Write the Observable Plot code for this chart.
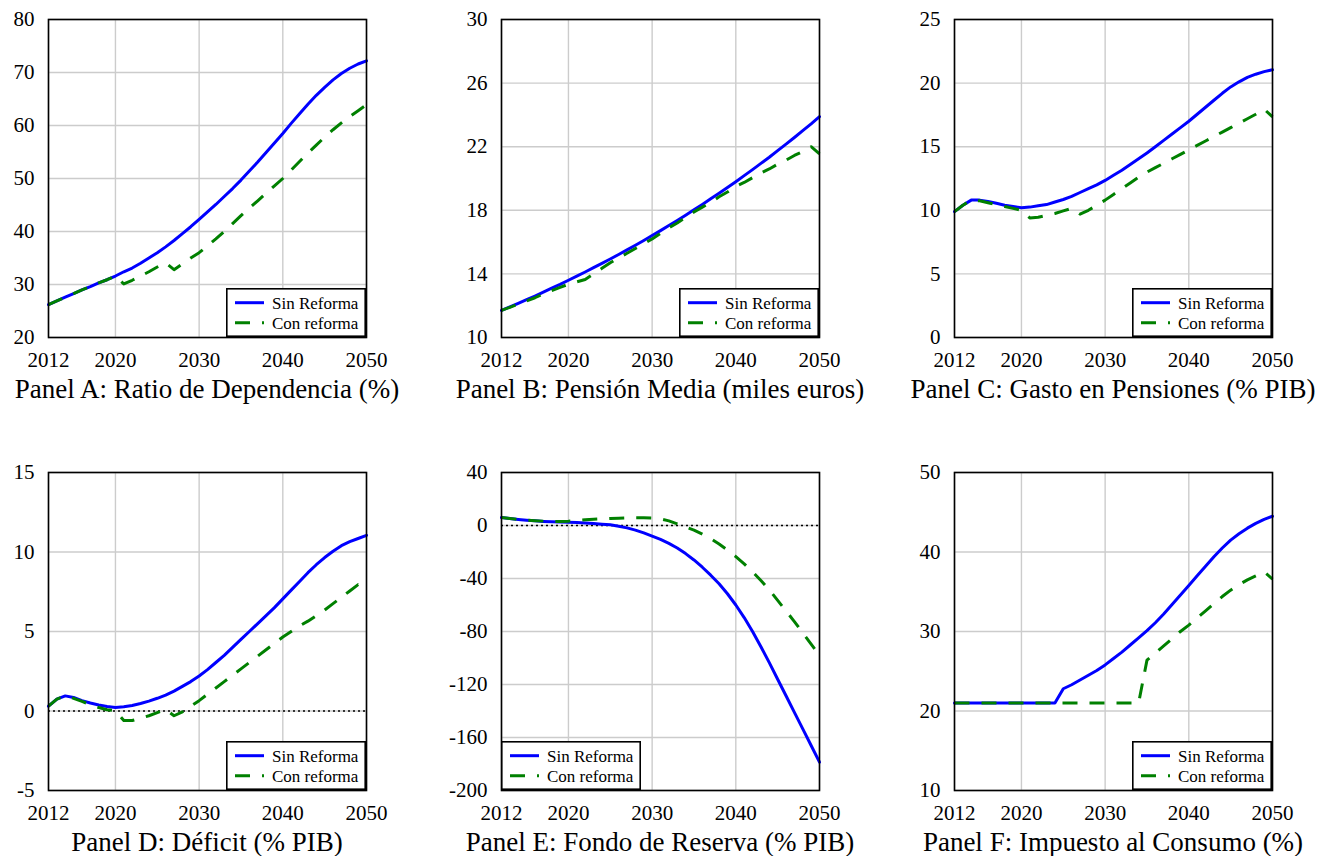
<!DOCTYPE html>
<html>
<head>
<meta charset="utf-8">
<script src="https://cdn.jsdelivr.net/npm/d3@7"></script>
<script src="https://cdn.jsdelivr.net/npm/@observablehq/plot@0.6"></script>
<style>
  body { margin: 0; background: #fff; }
  #root { position: relative; width: 1334px; height: 856px; overflow: hidden; background: #fff;
          font-family: "Liberation Serif", "Times New Roman", serif; color: #000; }
  .panel { position: absolute; }
  .title { position: absolute; font-size: 27px; line-height: 27px; white-space: nowrap; text-align: center; }
  .legend { position: absolute; }
</style>
</head>
<body>
<div id="root"></div>
<script>
// ---------- data ----------
const years = [2012,2013,2014,2015,2016,2017,2018,2019,2020,
  2021,2022,2023,2024,2025,2026,2027,2028,2029,2030,
  2031,2032,2033,2034,2035,2036,2037,2038,2039,2040,
  2041,2042,2043,2044,2045,2046,2047,2048,2049,2050];
const xTicks = [2012, 2020, 2030, 2040, 2050];
const seriesNames = ["Sin Reforma", "Con reforma"];

// Panel A: Ratio de Dependencia (%)
const aSin = [26.2,26.9,27.6,28.3,29.0,29.6,30.3,30.9,31.6,
  32.4,33.1,34.0,35.0,36.0,37.1,38.3,39.6,40.9,42.3,
  43.7,45.1,46.6,48.1,49.7,51.4,53.1,54.9,56.7,58.5,
  60.4,62.2,64.0,65.7,67.2,68.6,69.8,70.8,71.6,72.2];
const aCon = [26.2,26.9,27.6,28.3,29.0,29.6,30.3,30.9,31.6,
  30.1,30.8,31.6,32.4,33.3,34.1,32.8,33.9,35.0,36.0,
  37.3,38.6,40.0,41.5,43.0,44.4,45.8,47.2,48.6,50.0,
  51.6,53.2,54.8,56.3,57.8,59.2,60.5,61.7,62.8,63.9];
const aTicks = [20,30,40,50,60,70,80];

// Panel B: Pensión Media (miles euros)
const bSin = [11.7,11.92,12.15,12.38,12.61,12.85,13.1,13.34,13.6,
  13.86,14.12,14.39,14.66,14.94,15.22,15.51,15.8,16.1,16.41,
  16.72,17.04,17.36,17.69,18.03,18.37,18.72,19.07,19.43,19.8,
  20.18,20.56,20.95,21.34,21.75,22.16,22.58,23.01,23.44,23.89];
const bCon = [11.7,11.9,12.1,12.3,12.5,12.75,12.95,13.15,13.35,
  13.5,13.65,14.0,14.35,14.7,15.0,15.3,15.6,15.9,16.2,
  16.55,16.9,17.2,17.55,17.9,18.2,18.5,18.85,19.15,19.5,
  19.75,20.05,20.35,20.6,20.9,21.15,21.45,21.7,22.0,21.55];
const bTicks = [10,14,18,22,26,30];

// Panel C: Gasto en Pensiones (% PIB)
const cSin = [9.9,10.4,10.8,10.8,10.7,10.55,10.4,10.3,10.2,
  10.25,10.35,10.45,10.65,10.85,11.1,11.4,11.7,12.0,12.35,
  12.75,13.15,13.6,14.05,14.5,15.0,15.5,16.0,16.5,17.0,
  17.55,18.1,18.65,19.2,19.7,20.1,20.45,20.7,20.9,21.05];
const cCon = [9.9,10.4,10.8,10.75,10.6,10.45,10.3,10.15,10.0,
  9.4,9.45,9.6,9.75,9.95,10.15,9.7,10.0,10.4,10.8,
  11.25,11.7,12.15,12.6,13.0,13.35,13.7,14.05,14.4,14.75,
  15.1,15.45,15.8,16.15,16.5,16.85,17.2,17.55,17.95,17.35];
const cTicks = [0,5,10,15,20,25];

// Panel D: Déficit (% PIB)
const dSin = [0.3,0.75,0.95,0.85,0.65,0.5,0.38,0.28,0.22,
  0.27,0.35,0.47,0.62,0.8,1.0,1.25,1.55,1.85,2.2,
  2.6,3.05,3.5,4.0,4.5,5.0,5.5,6.0,6.5,7.05,
  7.6,8.15,8.7,9.2,9.65,10.05,10.4,10.65,10.85,11.05];
const dCon = [0.3,0.75,0.95,0.8,0.6,0.4,0.22,0.08,0.02,
  -0.6,-0.6,-0.45,-0.3,-0.1,0.1,-0.3,-0.05,0.3,0.65,
  1.05,1.45,1.85,2.25,2.65,3.05,3.45,3.85,4.25,4.65,
  5.0,5.35,5.65,6.0,6.35,6.75,7.15,7.55,7.95,7.8];
const dTicks = [-5,0,5,10,15];

// Panel E: Fondo de Reserva (% PIB)
const eSin = [6.0,5.3,4.6,4.0,3.5,3.1,2.8,2.6,2.4,
  2.2,1.9,1.5,1.0,0.5,-0.5,-1.8,-3.5,-5.6,-8.0,
  -10.5,-13.5,-17.0,-21.2,-26.0,-31.5,-37.5,-44.0,-51.5,-60.0,
  -69.5,-80.0,-91.5,-103.5,-116.0,-128.5,-141.0,-153.5,-166.0,-178.6];
const eCon = [6.0,5.3,4.6,4.0,3.6,3.3,3.1,3.1,3.3,
  3.8,4.3,4.7,5.0,5.3,5.5,5.7,5.8,5.8,5.6,
  4.9,3.5,1.2,-1.2,-3.5,-6.5,-10.0,-14.0,-18.5,-23.5,
  -29.0,-35.0,-41.5,-48.5,-56.5,-64.5,-72.5,-81.0,-89.5,-98.0];
const eTicks = [-200,-160,-120,-80,-40,0,40];

// Panel F: Impuesto al Consumo (%)
const fSin = [21.0,21.0,21.0,21.0,21.0,21.0,21.0,21.0,21.0,
  21.0,21.0,21.0,21.0,22.8,23.3,23.9,24.5,25.1,25.8,
  26.6,27.4,28.3,29.2,30.1,31.1,32.2,33.4,34.6,35.8,
  37.0,38.2,39.4,40.5,41.5,42.3,43.0,43.6,44.1,44.5];
const fCon = [21.0,21.0,21.0,21.0,21.0,21.0,21.0,21.0,21.0,
  21.0,21.0,21.0,21.0,21.0,21.0,21.0,21.0,21.0,21.0,
  21.0,21.0,21.0,21.0,26.4,27.3,28.2,29.1,30.0,30.8,
  31.7,32.6,33.5,34.4,35.2,35.9,36.5,37.0,37.5,36.6];
const fTicks = [10,20,30,40,50];

const titles = [
  "Panel A: Ratio de Dependencia (%)",
  "Panel B: Pensión Media (miles euros)",
  "Panel C: Gasto en Pensiones (% PIB)",
  "Panel D: Déficit (% PIB)",
  "Panel E: Fondo de Reserva (% PIB)",
  "Panel F: Impuesto al Consumo (%)"
];

// ---------- layout ----------
const FONT = '"Liberation Serif", "Times New Roman", serif';
const BLUE = "#0000ff", GREEN = "#008000";
const PW = 318, PH = 318;              // plot frame size
const MR = 30, MT = 15, MB = 40;
const colX = [48, 501, 954];           // frame left per column
const colML = [48, 61, 64];            // left margin per column (svg starts at colX - colML >= 0)
const rowY = [19, 472];

const panels = [
  {sin: aSin, con: aCon, ticks: aTicks, title: titles[0], col: 0, row: 0, zero: false, legendLeft: false},
  {sin: bSin, con: bCon, ticks: bTicks, title: titles[1], col: 1, row: 0, zero: false, legendLeft: false},
  {sin: cSin, con: cCon, ticks: cTicks, title: titles[2], col: 2, row: 0, zero: false, legendLeft: false},
  {sin: dSin, con: dCon, ticks: dTicks, title: titles[3], col: 0, row: 1, zero: true,  legendLeft: false},
  {sin: eSin, con: eCon, ticks: eTicks, title: titles[4], col: 1, row: 1, zero: true,  legendLeft: true},
  {sin: fSin, con: fCon, ticks: fTicks, title: titles[5], col: 2, row: 1, zero: false, legendLeft: false}
];

const root = document.getElementById("root");
const fmt = d => String(d);

function makeLegend() {
  const W = 140, H = 49;
  const ns = "http://www.w3.org/2000/svg";
  const svg = document.createElementNS(ns, "svg");
  svg.setAttribute("width", W);
  svg.setAttribute("height", H);
  svg.style.display = "block";
  const rect = document.createElementNS(ns, "rect");
  rect.setAttribute("x", 0.8); rect.setAttribute("y", 0.8);
  rect.setAttribute("width", W - 1.6); rect.setAttribute("height", H - 1.6);
  rect.setAttribute("fill", "#fff"); rect.setAttribute("stroke", "#000"); rect.setAttribute("stroke-width", 1.6);
  svg.appendChild(rect);
  const rows = [
    {name: seriesNames[0], color: BLUE, dash: null, y: 14.7},
    {name: seriesNames[1], color: GREEN, dash: "15,12", y: 34.7}
  ];
  for (const r of rows) {
    const ln = document.createElementNS(ns, "line");
    ln.setAttribute("x1", 9); ln.setAttribute("x2", 38);
    ln.setAttribute("y1", r.y); ln.setAttribute("y2", r.y);
    ln.setAttribute("stroke", r.color); ln.setAttribute("stroke-width", 3);
    if (r.dash) ln.setAttribute("stroke-dasharray", r.dash);
    svg.appendChild(ln);
    const tx = document.createElementNS(ns, "text");
    tx.setAttribute("x", 46); tx.setAttribute("y", r.y + 5.8);
    tx.setAttribute("font-family", FONT); tx.setAttribute("font-size", 17);
    tx.setAttribute("fill", "#000");
    tx.textContent = r.name;
    svg.appendChild(tx);
  }
  return svg;
}

for (const p of panels) {
  const fx = colX[p.col], fy = rowY[p.row], ML = colML[p.col];
  const sinData = years.map((y, i) => ({year: y, value: p.sin[i]}));
  const conData = years.map((y, i) => ({year: y, value: p.con[i]}));
  const chart = Plot.plot({
    width: ML + PW + MR,
    height: MT + PH + MB,
    marginLeft: ML, marginRight: MR, marginTop: MT, marginBottom: MB,
    style: {fontFamily: FONT, fontSize: "21px", background: "transparent", color: "#000", overflow: "visible"},
    x: {domain: [2012, 2050], ticks: xTicks, tickFormat: fmt, tickSize: 0, tickPadding: 15, label: null},
    y: {domain: [p.ticks[0], p.ticks[p.ticks.length - 1]], ticks: p.ticks, tickFormat: fmt, tickSize: 0, tickPadding: 14, label: null},
    marks: [
      Plot.ruleX(xTicks, {stroke: "#cccccc", strokeWidth: 1.4}),
      Plot.ruleY(p.ticks, {stroke: "#cccccc", strokeWidth: 1.4}),
      p.zero ? Plot.ruleY([0], {stroke: "#000", strokeWidth: 1.5, strokeDasharray: "2,3"}) : null,
      Plot.line(sinData, {x: "year", y: "value", stroke: BLUE, strokeWidth: 3}),
      Plot.line(conData, {x: "year", y: "value", stroke: GREEN, strokeWidth: 3, strokeDasharray: "15,12", strokeLinecap: "butt"}),
      Plot.frame({stroke: "#000", strokeWidth: 1.6})
    ]
  });
  const wrap = document.createElement("div");
  wrap.className = "panel";
  wrap.style.left = (fx - ML) + "px";
  wrap.style.top = (fy - MT) + "px";
  wrap.style.width = (ML + PW + MR) + "px";
  wrap.appendChild(chart);
  root.appendChild(wrap);

  const lg = document.createElement("div");
  lg.className = "legend";
  lg.style.left = (p.legendLeft ? fx : fx + PW - 140) + "px";
  lg.style.top = (fy + PH - 49) + "px";
  lg.appendChild(makeLegend());
  root.appendChild(lg);

  const t = document.createElement("div");
  t.className = "title";
  t.textContent = p.title;
  t.style.left = (fx + PW / 2 - 250) + "px";
  t.style.width = "500px";
  t.style.top = (fy + PH + 62 - 22.6) + "px";
  root.appendChild(t);
}
</script>
</body>
</html>
